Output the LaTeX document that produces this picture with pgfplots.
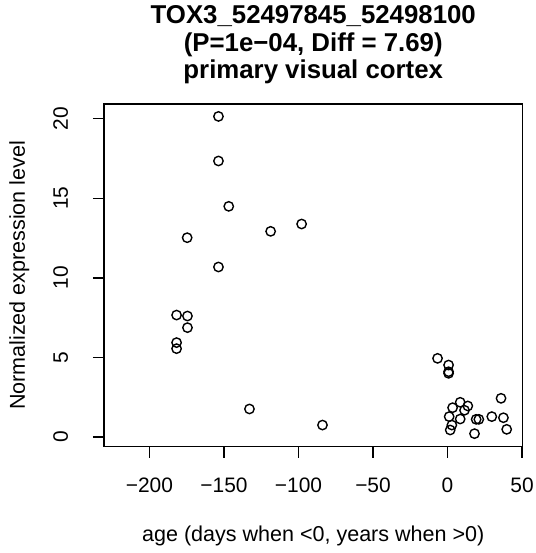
\documentclass[border=0pt]{standalone}
\usepackage{fontspec}
\setmainfont{Liberation Sans}
\usepackage{pgfplots}
\pgfplotsset{compat=1.18}
\begin{document}
\begin{tikzpicture}
\path[use as bounding box] (-104bp,-106.3bp) rectangle (432bp,446.7bp);
\begin{axis}[
  at={(0,0)}, anchor=south west,
  scale only axis, width=418.5bp, height=342.7bp,
  xmin=-230.5, xmax=50.3, ymin=-0.61, ymax=20.92,
  axis line style={line width=1.4bp},
  xtick={-200,-150,-100,-50,0,50},
  xticklabels={−200,−150,−100,−50,0,50},
  ytick={0,5,10,15,20},
  yticklabels={0,5,10,15,20},
  tick pos=left, tick align=outside,
  major tick length=11bp,
  tick style={line width=1.4bp, black},
  ticklabel style={font=\fontsize{21}{25}\selectfont},
  xticklabel style={anchor=base, yshift=-35bp},
  yticklabel style={rotate=90, anchor=base, yshift=25bp},
  title={TOX3\_52497845\_52498100\\(P=1e−04, Diff = 7.69)\\primary visual cortex},
  title style={font=\fontsize{25.9}{28}\selectfont\bfseries, align=center, at={(rel axis cs:0.5,1)}, anchor=south, inner sep=0pt, yshift=13.5bp},
  xlabel={age (days when <0, years when >0)},
  xlabel style={font=\fontsize{21.6}{25}\selectfont, at={(rel axis cs:0.5,0)}, anchor=base, yshift=-94.3bp},
  ylabel={Normalized expression level},
  ylabel style={font=\fontsize{21.6}{25}\selectfont, at={(rel axis cs:0,0.5)}, anchor=base, yshift=79bp},
]
\addplot[only marks, mark=o, mark size=4.7bp, mark options={line width=1.4bp, black}] coordinates {
(-153.7,20.14) (-153.7,17.34) (-146.8,14.49) (-97.9,13.38) (-118.7,12.92)
(-174.7,12.52) (-153.7,10.68) (-181.8,7.66) (-174.5,7.60) (-174.5,6.87)
(-181.8,5.93) (-181.8,5.55) (-132.9,1.76) (-83.9,0.75)
(-6.7,4.94) (0.7,4.52) (0.7,4.10) (0.7,4.00) (35.9,2.43) (8.5,2.18)
(13.6,1.95) (3.4,1.84) (11.4,1.68) (1.1,1.28) (8.5,1.13) (19.2,1.11)
(21.0,1.11) (29.7,1.28) (37.5,1.21) (2.9,0.75) (1.8,0.44) (18.1,0.21)
(39.7,0.48)
};
\end{axis}
\end{tikzpicture}
\end{document}
